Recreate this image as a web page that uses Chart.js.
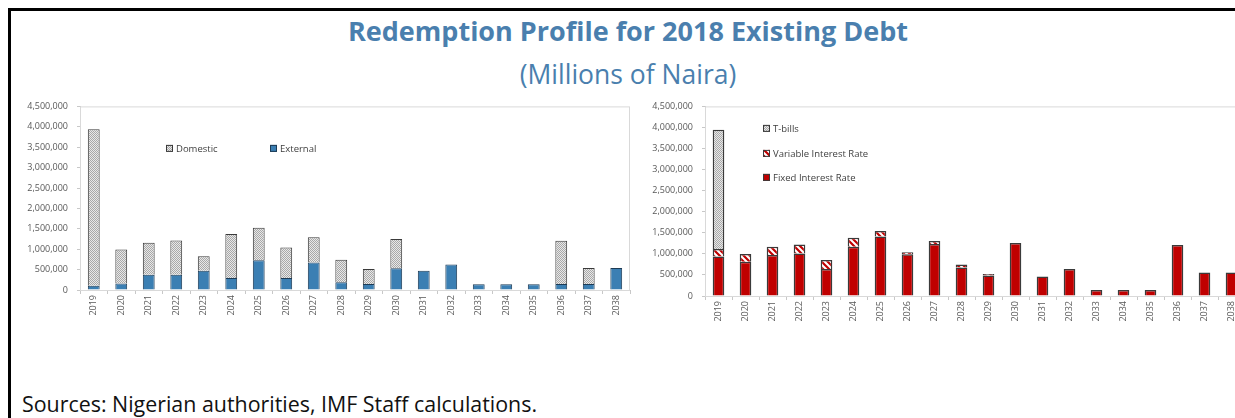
<!DOCTYPE html>
<html>
<head>
<meta charset="utf-8">
<script src="https://cdn.jsdelivr.net/npm/chart.js@4.4.1/dist/chart.umd.min.js"></script>
<style>
  html, body { margin: 0; padding: 0; background: #fff; overflow: hidden; }
  .page { position: relative; width: 1235px; height: 418px; overflow: hidden; }
  .frame { position: absolute; left: 8px; top: 8px; width: 1260px; height: 440px; border-left: 3px solid #000; border-top: 3px solid #000; }
  .title { position: absolute; left: 0; width: 1256px; top: 12px; text-align: center; font-family: 'Open Sans', sans-serif; font-weight: bold; font-size: 27px; color: #4a7fae; white-space: nowrap; }
  .subtitle { position: absolute; left: 0; width: 1256px; top: 56px; text-align: center; font-family: 'Open Sans', sans-serif; font-size: 26.5px; color: #4a7fae; white-space: nowrap; }
  .sources { position: absolute; left: 22px; top: 389px; font-family: 'Open Sans', sans-serif; font-size: 21.4px; color: #111; white-space: nowrap; }
  .clip { position: absolute; overflow: hidden; }
  .box { position: relative; }
  #leftClip { left: 0; top: 92px; width: 640px; height: 238px; }
  #leftBox { width: 640px; height: 238px; }
  #rightClip { left: 640px; top: 92px; width: 595px; height: 244px; }
  #rightBox { width: 615px; height: 244px; }
</style>
</head>
<body>
<div class="page">
  <div class="frame"></div>
  <div class="title">Redemption Profile for 2018 Existing Debt</div>
  <div class="subtitle">(Millions of Naira)</div>
  <div class="clip" id="leftClip"><div class="box" id="leftBox"><canvas id="leftChart" width="640" height="238"></canvas></div></div>
  <div class="clip" id="rightClip"><div class="box" id="rightBox"><canvas id="rightChart" width="615" height="244"></canvas></div></div>
  <div class="sources">Sources: Nigerian authorities, IMF Staff calculations.</div>
</div>

<script>
/* Redemption profile — two stacked bar panels */

const years = ['2019', '2020', '2021', '2022', '2023', '2024', '2025', '2026', '2027', '2028',
               '2029', '2030', '2031', '2032', '2033', '2034', '2035', '2036', '2037', '2038'];

// left panel: by residency
const external = [105000, 160000, 375000, 375000, 470000, 295000, 730000, 295000, 675000, 190000,
                  150000, 535000, 470000, 625000, 140000, 140000, 140000, 150000, 150000, 540000];
const domestic = [3835000, 830000, 785000, 840000, 355000, 1080000, 795000, 745000, 615000, 550000,
                  365000, 715000, 0, 0, 0, 0, 0, 1060000, 390000, 0];

// right panel: by instrument
const fixedRate = [935000, 815000, 975000, 1010000, 640000, 1170000, 1410000, 990000, 1235000, 675000,
                   485000, 1255000, 460000, 640000, 140000, 140000, 140000, 1210000, 560000, 560000];
const variableRate = [180000, 180000, 195000, 215000, 215000, 215000, 135000, 50000, 70000, 75000,
                      35000, 0, 0, 0, 0, 0, 0, 0, 0, 0];
const tBills = [2830000, 0, 0, 0, 0, 0, 0, 0, 0, 0, 0, 0, 0, 0, 0, 0, 0, 0, 0, 0];

const yTicks = [0, 500000, 1000000, 1500000, 2000000, 2500000, 3000000, 3500000, 4000000, 4500000];

const colors = {
  blue: '#3b7fb3', blueEdge: '#1d3b55',
  red: '#c00000', edge: '#3a3a3a',
  axis: '#c8c8c8', frame: '#d9d9d9', tick: '#595959', legend: '#404040',
};

function stipple() {
  const c = document.createElement('canvas');
  c.width = 2; c.height = 2;
  const g = c.getContext('2d');
  g.fillStyle = '#e8e8e8'; g.fillRect(0, 0, 2, 2);
  g.fillStyle = '#a8a8a8';
  g.fillRect(0, 0, 1, 1); g.fillRect(1, 1, 1, 1);
  return g.createPattern(c, 'repeat');
}

function stripes() {
  const c = document.createElement('canvas');
  c.width = 6; c.height = 6;
  const g = c.getContext('2d');
  g.fillStyle = '#ffffff'; g.fillRect(0, 0, 6, 6);
  g.strokeStyle = colors.red; g.lineWidth = 2.2;
  g.beginPath();
  g.moveTo(-1, -1); g.lineTo(7, 7);
  g.moveTo(-4, 2); g.lineTo(2, 8);
  g.moveTo(2, -4); g.lineTo(8, 2);
  g.stroke();
  return g.createPattern(c, 'repeat');
}

const dotFill = stipple();
const stripeFill = stripes();

Chart.defaults.font.family = "'Open Sans', sans-serif";
Chart.defaults.animation = false;

// plot frame + legend drawn inside the plot area
const panelDecor = {
  id: 'panelDecor',
  afterDraw(chart, args, opts) {
    const { ctx, chartArea: a } = chart;
    ctx.save();
    ctx.strokeStyle = colors.frame;
    ctx.lineWidth = 1;
    ctx.strokeRect(a.left + 0.5, a.top + 0.5, a.right - a.left - 1, a.bottom - a.top);
    ctx.font = "9.5px 'Open Sans', sans-serif";
    ctx.textBaseline = 'middle';
    (opts.items || []).forEach(it => {
      const x = a.left + it.x, y = a.top + it.y;
      ctx.fillStyle = it.fill;
      ctx.fillRect(x, y - 3.5, 7, 7);
      ctx.strokeStyle = it.edge;
      ctx.strokeRect(x + 0.5, y - 3, 6, 6);
      ctx.fillStyle = colors.legend;
      ctx.fillText(it.label, x + 10, y + 0.5);
    });
    ctx.restore();
  }
};

function panelOptions(yWidth, legendItems) {
  return {
    responsive: true,
    maintainAspectRatio: false,
    layout: { padding: { top: 0, right: 10, left: 0, bottom: 0 } },
    plugins: { legend: { display: false }, tooltip: { enabled: false }, panelDecor: { items: legendItems } },
    scales: {
      x: {
        stacked: true,
        grid: { offset: true, drawOnChartArea: false, drawTicks: true, tickLength: 4, color: colors.axis },
        border: { color: colors.axis },
        ticks: { minRotation: 90, maxRotation: 90, color: colors.tick, font: { size: 9 }, padding: 1 },
        afterFit: s => { s.height = 40; },
      },
      y: {
        stacked: true,
        min: 0, max: 4500000,
        afterBuildTicks: s => { s.ticks = yTicks.map(v => ({ value: v })); },
        grid: { drawOnChartArea: false, tickLength: 3, color: colors.axis },
        border: { color: colors.axis },
        ticks: { color: colors.tick, font: { size: 9 }, padding: 9, callback: v => v === 0 ? '0' : v.toLocaleString('en-US') },
        afterFit: s => { s.width = yWidth; },
      }
    }
  };
}

const barBase = { categoryPercentage: 1, barPercentage: 0.43, borderWidth: 1, borderSkipped: 'start' };

new Chart(document.getElementById('leftChart'), {
  type: 'bar',
  data: {
    labels: years,
    datasets: [
      { ...barBase, label: 'External', data: external, backgroundColor: colors.blue, borderColor: colors.blueEdge },
      { ...barBase, label: 'Domestic', data: domestic, backgroundColor: dotFill, borderColor: colors.edge },
    ]
  },
  options: panelOptions(80, [
    { label: 'Domestic', x: 86, y: 42, fill: dotFill, edge: colors.edge },
    { label: 'External', x: 190, y: 42, fill: colors.blue, edge: colors.blueEdge },
  ]),
  plugins: [panelDecor]
});

new Chart(document.getElementById('rightChart'), {
  type: 'bar',
  data: {
    labels: years,
    datasets: [
      { ...barBase, label: 'Fixed Interest Rate', data: fixedRate, backgroundColor: colors.red, borderColor: colors.edge, borderWidth: 1.5 },
      { ...barBase, label: 'Variable Interest Rate', data: variableRate, backgroundColor: stripeFill, borderColor: colors.edge, borderWidth: 1.5 },
      { ...barBase, label: 'T-bills', data: tBills, backgroundColor: dotFill, borderColor: colors.edge, borderWidth: 1.5 },
    ]
  },
  options: panelOptions(65, [
    { label: 'T-bills', x: 58, y: 22, fill: dotFill, edge: colors.edge },
    { label: 'Variable Interest Rate', x: 58, y: 47, fill: stripeFill, edge: colors.edge },
    { label: 'Fixed Interest Rate', x: 58, y: 71, fill: colors.red, edge: colors.edge },
  ]),
  plugins: [panelDecor]
});
</script>
</body>
</html>
